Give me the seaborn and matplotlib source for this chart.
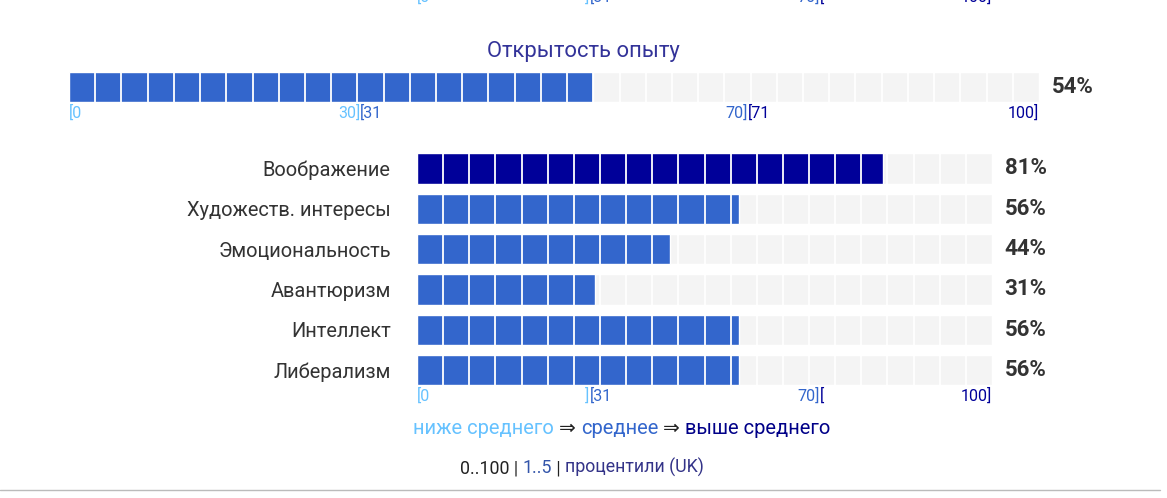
import matplotlib
matplotlib.use("Agg")
import matplotlib.pyplot as plt
import matplotlib.transforms as mtransforms
from matplotlib.lines import Line2D
import seaborn as sns
import pandas as pd

# Data
domain_name = "Открытость опыту"
domain_score = 54
facets = ["Воображение", "Художеств. интересы", "Эмоциональность",
          "Авантюризм", "Интеллект", "Либерализм"]
facet_scores = [81, 56, 44, 31, 56, 56]
top_ticks = [(0, "[0", "left", "low"), (30, "30]", "right", "low"), (30, "[31", "left", "mid"),
             (70, "70]", "right", "mid"), (70, "[71", "left", "high"), (100, "100]", "right", "high")]
facet_ticks = [(0, "[0", "left", "low"), (30, "]", "right", "low"), (30, "[31", "left", "mid"),
               (70, "70]", "right", "mid"), (70, "[", "left", "high"), (100, "100]", "right", "high")]

W, H = 1167, 498
colors = {"low": "#66c2ff", "mid": "#3366cc", "high": "#000099"}
bg_color = "#f4f4f4"


def level(v):
    if v <= 30:
        return "low"
    if v <= 70:
        return "mid"
    return "high"


def rect(x0, y0, x1, y1):
    # pixel box -> figure fraction
    return [x0 / W, 1 - y1 / H, (x1 - x0) / W, (y1 - y0) / H]


sns.set_theme(style="white")
plt.rcParams["font.family"] = ["Roboto", "DejaVu Sans"]

fig = plt.figure(figsize=(W / 100, H / 100), dpi=100)


def segment(ax, n):
    for k in range(1, n):
        ax.axvline(k * 100 / n, color="white", lw=1.3, zorder=5)


def draw_ticks(ax, ticks, y_px):
    tr = mtransforms.blended_transform_factory(ax.transData, fig.transFigure)
    for x, s, ha, lev in ticks:
        fig.text(x, 1 - y_px / H, s, transform=tr, ha=ha, va="center",
                 fontsize=11.5, color=colors[lev])


def clean(ax):
    ax.set_xlim(0, 100)
    ax.set_xlabel("")
    ax.set_ylabel("")
    ax.set_xticks([])
    sns.despine(ax=ax, left=True, bottom=True)


# Domain bar
ax_top = fig.add_axes(rect(69, 72, 1039, 102))
df_top = pd.DataFrame({"name": [domain_name], "score": [domain_score]})
sns.barplot(data=df_top, x=[100], y="name", color=bg_color, width=1,
            saturation=1, ax=ax_top)
sns.barplot(data=df_top, x="score", y="name", color=colors[level(domain_score)],
            width=1, saturation=1, ax=ax_top)
ax_top.set_ylim(0.5, -0.5)
ax_top.set_yticks([])
clean(ax_top)
segment(ax_top, 37)
ax_top.annotate(f"{domain_score}%", xy=(1, 0), xycoords=("axes fraction", "data"),
                xytext=(9, 0), textcoords="offset points", va="center", ha="left",
                fontsize=16, fontweight="bold", color="#333333")
draw_ticks(ax_top, top_ticks, 113)
fig.text(0.5, 1 - 51 / H, domain_name, ha="center", va="center",
         fontsize=15.8, color="#333399")

# Facet bars
ax = fig.add_axes(rect(417, 148.3, 992, 390.2))
df = pd.DataFrame({"facet": facets, "score": facet_scores})
df["level"] = [level(v) for v in facet_scores]
sns.barplot(data=df, x=[100] * len(facets), y="facet", color=bg_color, width=0.75,
            saturation=1, ax=ax)
sns.barplot(data=df, x="score", y="facet", hue="facet",
            palette=[colors[l] for l in df["level"]], width=0.75, saturation=1,
            legend=False, ax=ax)
ax.set_ylim(len(facets) - 0.5, -0.5)
clean(ax)
ax.tick_params(axis="y", length=0, pad=19, labelsize=14.4, labelcolor="#333333")
segment(ax, 22)
for i, v in enumerate(facet_scores):
    ax.annotate(f"{v}%", xy=(1, i), xycoords=("axes fraction", "data"),
                xytext=(9, 0), textcoords="offset points", va="center", ha="left",
                fontsize=16, fontweight="bold", color="#333333")
draw_ticks(ax, facet_ticks, 396)
# tick labels of the section above, cut by the top edge
draw_ticks(ax, facet_ticks, -3)


def annotate_chain(x_px, y_px, parts, size):
    prev = fig.text(x_px / W, 1 - y_px / H, parts[0][0], color=parts[0][1],
                    fontsize=size, va="center", ha="left")
    for s, c in parts[1:]:
        prev = plt.annotate(s, xy=(1, 0), xycoords=prev, va="bottom", ha="left",
                            color=c, fontsize=size)
    return prev


legend_parts = [("ниже среднего", colors["low"]), (" ⇒ ", "#222222"),
                ("среднее", colors["mid"]), (" ⇒ ", "#222222"),
                ("выше среднего", "#000088")]
annotate_chain(413, 428, legend_parts, 14.5)

footer_parts = [("0..100 | ", "#222222"), ("1..5", "#3355aa"), (" | ", "#222222"),
                ("процентили (UK)", "#333388")]
annotate_chain(460, 468, footer_parts, 12.8)

fig.add_artist(Line2D([0, 1160 / W], [1 - 490 / H, 1 - 490 / H], color="#bbbbbb", lw=1))

fig.savefig("out.png", dpi=100)
